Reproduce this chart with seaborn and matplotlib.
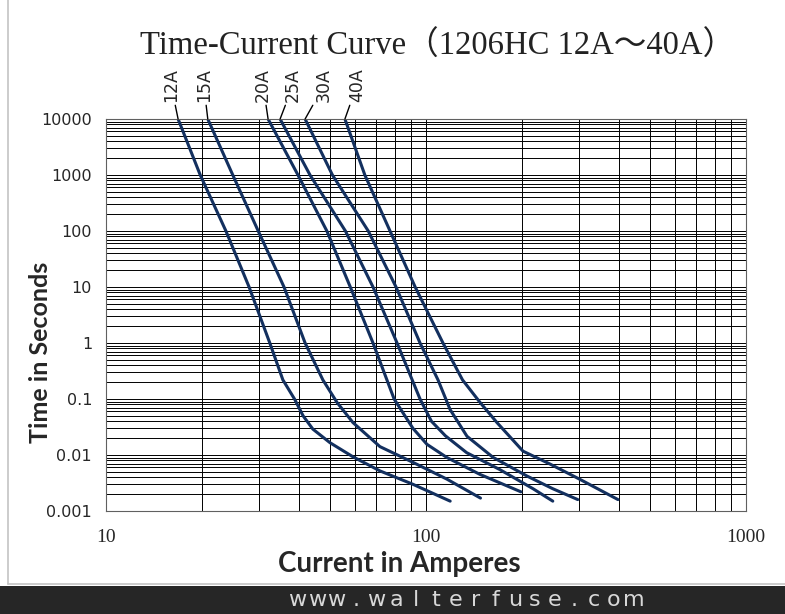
import numpy as np
import pandas as pd
import matplotlib
matplotlib.use('Agg')
import matplotlib.pyplot as plt
import seaborn as sns
from matplotlib.ticker import FixedLocator, LogLocator, NullFormatter
from matplotlib.patches import Rectangle
from matplotlib.lines import Line2D

# fuse ratings and their time-current points (amps, seconds)
ratings = ['12A', '15A', '20A', '25A', '30A', '40A']

amps_12 = [16.8, 19.7, 23.7, 28.0, 32.5, 35.7, 38.9, 41.3, 44.3, 50.1, 59.1, 71.8, 91.0, 119]
secs_12 = [10000, 1000, 100, 10, 1, 0.22, 0.098, 0.05, 0.029, 0.0166, 0.0093, 0.0052, 0.003, 0.0015]

amps_15 = [20.8, 24.9, 29.9, 36.0, 41.9, 47.6, 52.7, 59.1, 71.8, 91.0, 116.3, 148]
secs_15 = [10000, 1000, 100, 10, 1, 0.22, 0.087, 0.038, 0.0141, 0.0074, 0.0037, 0.0017]

amps_20 = [32.1, 39.8, 49.0, 58.0, 68.3, 79.5, 91.0, 100.7, 116.3, 147.5, 198]
secs_20 = [10000, 1000, 100, 10, 1, 0.1, 0.03, 0.0155, 0.009, 0.0045, 0.0022]

amps_25 = [35.0, 43.4, 56.0, 68.3, 81.2, 95.8, 104, 115, 134, 170, 216, 249]
secs_25 = [10000, 1000, 100, 10, 1, 0.1, 0.04, 0.022, 0.011, 0.0055, 0.0025, 0.0015]

amps_30 = [41.9, 51.0, 66.0, 80.6, 95.8, 109, 118.9, 134.3, 161.9, 207, 249, 298]
secs_30 = [10000, 1000, 100, 10, 1, 0.22, 0.065, 0.0216, 0.0091, 0.0042, 0.0025, 0.0016]

amps_40 = [55.8, 64.4, 77.2, 92.5, 113, 130, 147.5, 166.6, 201, 244, 302, 398]
secs_40 = [10000, 1000, 100, 10, 1, 0.22, 0.087, 0.038, 0.0117, 0.0069, 0.0037, 0.0016]

x_ticks = [10, 100, 1000]
x_tick_labels = ['10', '100', '1000']
y_ticks = [0.001, 0.01, 0.1, 1, 10, 100, 1000, 10000]
y_tick_labels = ['0.001', '0.01', '0.1', '1', '10', '100', '1000', '10000']

title = 'Time-Current Curve（1206HC 12A～40A）'
site = 'www.walterfuse.com'

all_amps = [amps_12, amps_15, amps_20, amps_25, amps_30, amps_40]
all_secs = [secs_12, secs_15, secs_20, secs_25, secs_30, secs_40]

rows = []
for name, amps, secs in zip(ratings, all_amps, all_secs):
    for a, s in zip(amps, secs):
        rows.append({'rating': name, 'amps': a, 'seconds': s})
df = pd.DataFrame(rows)

sns.set_theme(style='white')
plt.rcParams['font.family'] = ['DejaVu Sans']

W, H = 785, 614
fig = plt.figure(figsize=(W / 100, H / 100), dpi=100)
fig.patch.set_facecolor('white')
ax = fig.add_axes([106 / W, 1 - 511 / H, 640 / W, 392 / H])

navy = '#13305f'
sns.lineplot(data=df, x='amps', y='seconds', hue='rating',
             palette={r: navy for r in ratings}, estimator=None, sort=False,
             legend=False, linewidth=2.2, ax=ax)
for ln in ax.lines:
    ln.set_solid_joinstyle('round')

ax.set_xscale('log')
ax.set_yscale('log')
ax.set_xlim(10, 1000)
ax.set_ylim(0.001, 10000)

ax.xaxis.set_major_locator(FixedLocator(x_ticks))
ax.xaxis.set_minor_locator(LogLocator(base=10, subs=np.arange(2, 10), numticks=50))
ax.xaxis.set_minor_formatter(NullFormatter())
ax.yaxis.set_major_locator(FixedLocator(y_ticks))
ax.yaxis.set_minor_locator(LogLocator(base=10, subs=np.arange(2, 10), numticks=50))
ax.yaxis.set_minor_formatter(NullFormatter())

ax.set_xticklabels(x_tick_labels, fontfamily='Liberation Serif', fontsize=14)
ax.set_yticklabels(y_tick_labels, fontsize=11.5)
ax.tick_params(which='both', length=0)
ax.tick_params(axis='x', pad=13)
ax.tick_params(axis='y', pad=10)

ax.set_axisbelow(True)
ax.grid(True, which='both', color='black', linewidth=0.7)
for sp in ax.spines.values():
    sp.set_color('#606060')
    sp.set_linewidth(0.8)

ax.set_xlabel('Current in Amperes', fontfamily='Lato', fontweight='bold', fontsize=20)
ax.set_ylabel('Time in Seconds', fontfamily='Lato', fontweight='bold', fontsize=18)
ax.xaxis.set_label_coords(0.458, -0.103)
ax.yaxis.set_label_coords(-0.084, 0.405)

# rating labels with leader lines to the top of each curve
label_dx = [-7, -4, -5, 13, 19, 12]
for name, amps, secs, dx in zip(ratings, all_amps, all_secs, label_dx):
    ax.annotate(name, xy=(amps[0], secs[0]), xytext=(dx, 17), textcoords='offset pixels',
                rotation=90, ha='center', va='bottom', fontsize=12.5,
                arrowprops=dict(arrowstyle='-', color='black', lw=1.0, shrinkA=0, shrinkB=0),
                annotation_clip=False)

fig.text(438 / W, 1 - 46 / H, title, ha='center', va='center', fontsize=23.5,
         family=['Liberation Serif', 'Noto Sans CJK SC'], color='#222222')

# light frame and dark footer band
fig.add_artist(Line2D([8 / W, 8 / W], [30 / H, 1], color='#c4c4c4', lw=1.2))
fig.add_artist(Line2D([8 / W, 1], [30 / H, 30 / H], color='#c4c4c4', lw=1.2))
fig.patches.append(Rectangle((0, 0), 1, 28 / H, transform=fig.transFigure,
                             facecolor='#262626', edgecolor='none'))
for i, ch in enumerate(site):
    fig.text((297 + 19.8 * i) / W, 14 / H, ch, ha='center', va='center',
             fontsize=16, color='#d8d8d8', family='DejaVu Sans')

fig.savefig('out.png', dpi=100)
